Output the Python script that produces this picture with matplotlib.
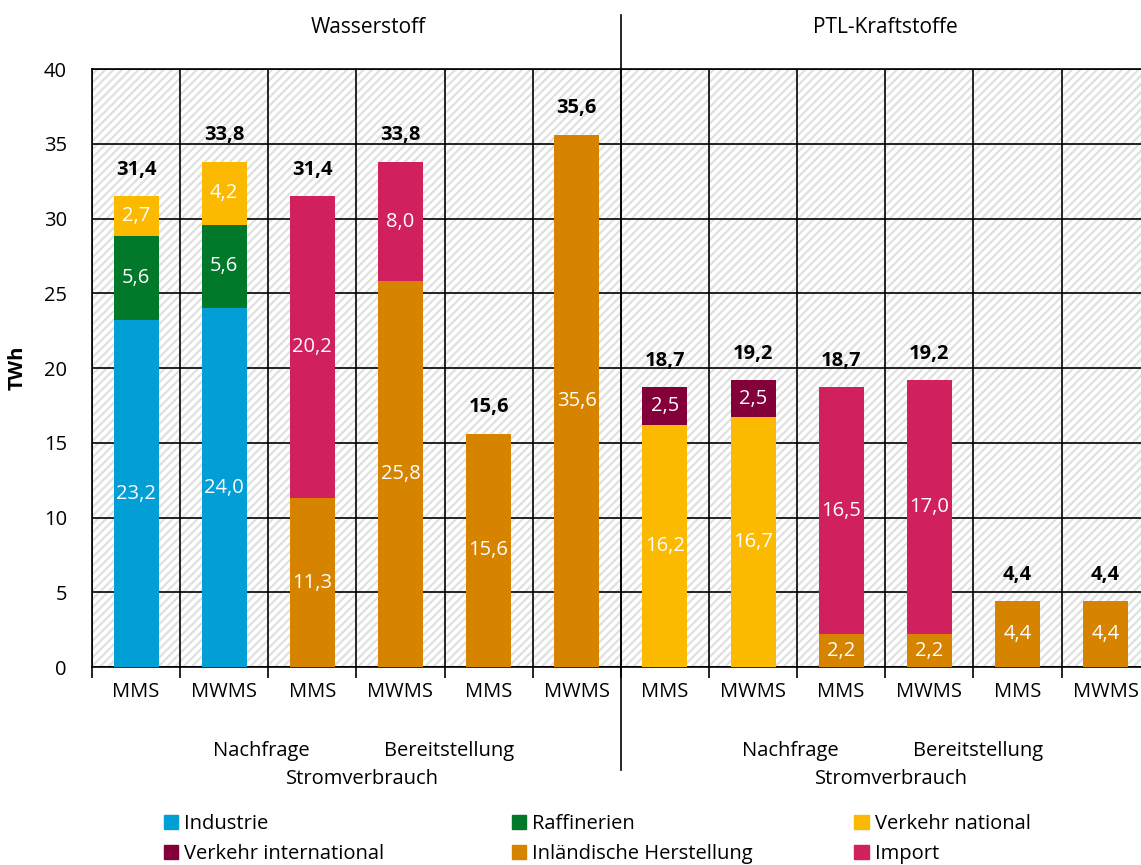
import matplotlib.pyplot as plt
from matplotlib.patches import Rectangle, Patch
import numpy as np

plt.rcParams['font.family'] = ['Open Sans', 'DejaVu Sans']
plt.rcParams['hatch.linewidth'] = 1.6

# Daten (TWh), je Balken von links nach rechts
szenarien = ['MMS', 'MWMS'] * 6
industrie = [23.2, 24.0, 0, 0, 0, 0, 0, 0, 0, 0, 0, 0]
raffinerien = [5.6, 5.6, 0, 0, 0, 0, 0, 0, 0, 0, 0, 0]
verkehr_national = [2.7, 4.2, 0, 0, 0, 0, 16.2, 16.7, 0, 0, 0, 0]
verkehr_international = [0, 0, 0, 0, 0, 0, 2.5, 2.5, 0, 0, 0, 0]
inlaendisch = [0, 0, 11.3, 25.8, 15.6, 35.6, 0, 0, 2.2, 2.2, 4.4, 4.4]
importe = [0, 0, 20.2, 8.0, 0, 0, 0, 0, 16.5, 17.0, 0, 0]
summen = [31.4, 33.8, 31.4, 33.8, 15.6, 35.6, 18.7, 19.2, 18.7, 19.2, 4.4, 4.4]

gruppen = ['Wasserstoff', 'PTL-Kraftstoffe']
stufen = ['Nachfrage', 'Bereitstellung', 'Stromverbrauch']

serien = [
    ('Industrie', industrie, '#029ed6'),
    ('Raffinerien', raffinerien, '#02782a'),
    ('Verkehr national', verkehr_national, '#fbba00'),
    ('Verkehr international', verkehr_international, '#830039'),
    ('Inländische Herstellung', inlaendisch, '#d68400'),
    ('Import', importe, '#d1205e'),
]

FS = 14.5


def fmt(v):
    return f'{v:.1f}'.replace('.', ',')


fig = plt.figure(figsize=(11.41, 8.65), dpi=100)
ax = fig.add_axes([0.0806, 0.2289, 0.927, 0.6913])

x = np.arange(len(szenarien))
ax.set_xlim(-0.5, len(szenarien) - 0.5)
ax.set_ylim(0, 40)

# schraffierter Hintergrund
ax.add_patch(Rectangle((0, 0), 1, 1, transform=ax.transAxes, facecolor='white',
                       hatch='////', edgecolor='#e0e0e0', linewidth=0, zorder=0))

ax.set_yticks(np.arange(0, 41, 5))
ax.set_xticks(np.arange(-0.5, len(szenarien), 1))
ax.set_xticklabels([])
ax.grid(True, color='black', linewidth=1.2, zorder=1)
ax.set_axisbelow(True)
ax.tick_params(axis='y', length=0, pad=18, labelsize=FS)
ax.tick_params(axis='x', direction='out', length=8, width=1.2, color='black')
for s in ax.spines.values():
    s.set_linewidth(1.2)
    s.set_zorder(1)

unten = np.zeros(len(szenarien))
for name, werte, farbe in serien:
    werte = np.array(werte)
    ax.bar(x, werte, width=0.51, bottom=unten, color=farbe, zorder=3, label=name)
    for i, v in enumerate(werte):
        if v > 0:
            ax.text(x[i], unten[i] + v / 2, fmt(v), ha='center', va='center',
                    color='white', fontsize=FS, zorder=4)
    unten = unten + werte

for i, s in enumerate(summen):
    ax.text(x[i], unten[i] + 1.1, fmt(s), ha='center', va='bottom',
            fontsize=FS, fontweight='bold', zorder=4)

# Kategorien unter der Achse
for i, lab in enumerate(szenarien):
    ax.text(x[i], -1.65, lab, ha='center', va='center', fontsize=FS, clip_on=False)

for g, name in enumerate(gruppen):
    off = g * 6
    ax.text(off + 2.5 + 0.13 * (1 - g), 42.8, name, ha='center', va='center', fontsize=FS + 0.5, clip_on=False)
    ax.text(off + 1.42, -5.6, stufen[0], ha='center', va='center', fontsize=FS, clip_on=False)
    ax.text(off + 3.55, -5.6, stufen[1], ha='center', va='center', fontsize=FS, clip_on=False)
    ax.text(off + 2.57, -7.5, stufen[2], ha='center', va='center', fontsize=FS, clip_on=False)

# Trennlinie zwischen Wasserstoff und PTL
ax.plot([5.5, 5.5], [-6.9, 43.6], color='black', linewidth=1.2, clip_on=False, zorder=5)

ax.set_ylabel('TWh', fontsize=FS, fontweight='bold', labelpad=12)

# Legende: drei Spalten mit je zwei Einträgen
handles = [Patch(color=f) for _, _, f in serien]
namen = [n for n, _, _ in serien]
spalten_x = [0.128, 0.433, 0.733]
for k, sx in enumerate(spalten_x):
    fig.legend([handles[k], handles[k + 3]], [namen[k], namen[k + 3]],
               loc='lower left', bbox_to_anchor=(sx, -0.02), frameon=False,
               fontsize=FS, handlelength=0.7, handleheight=0.7, handletextpad=0.3,
               labelspacing=0.5)

fig.savefig('out.png', dpi=100)
